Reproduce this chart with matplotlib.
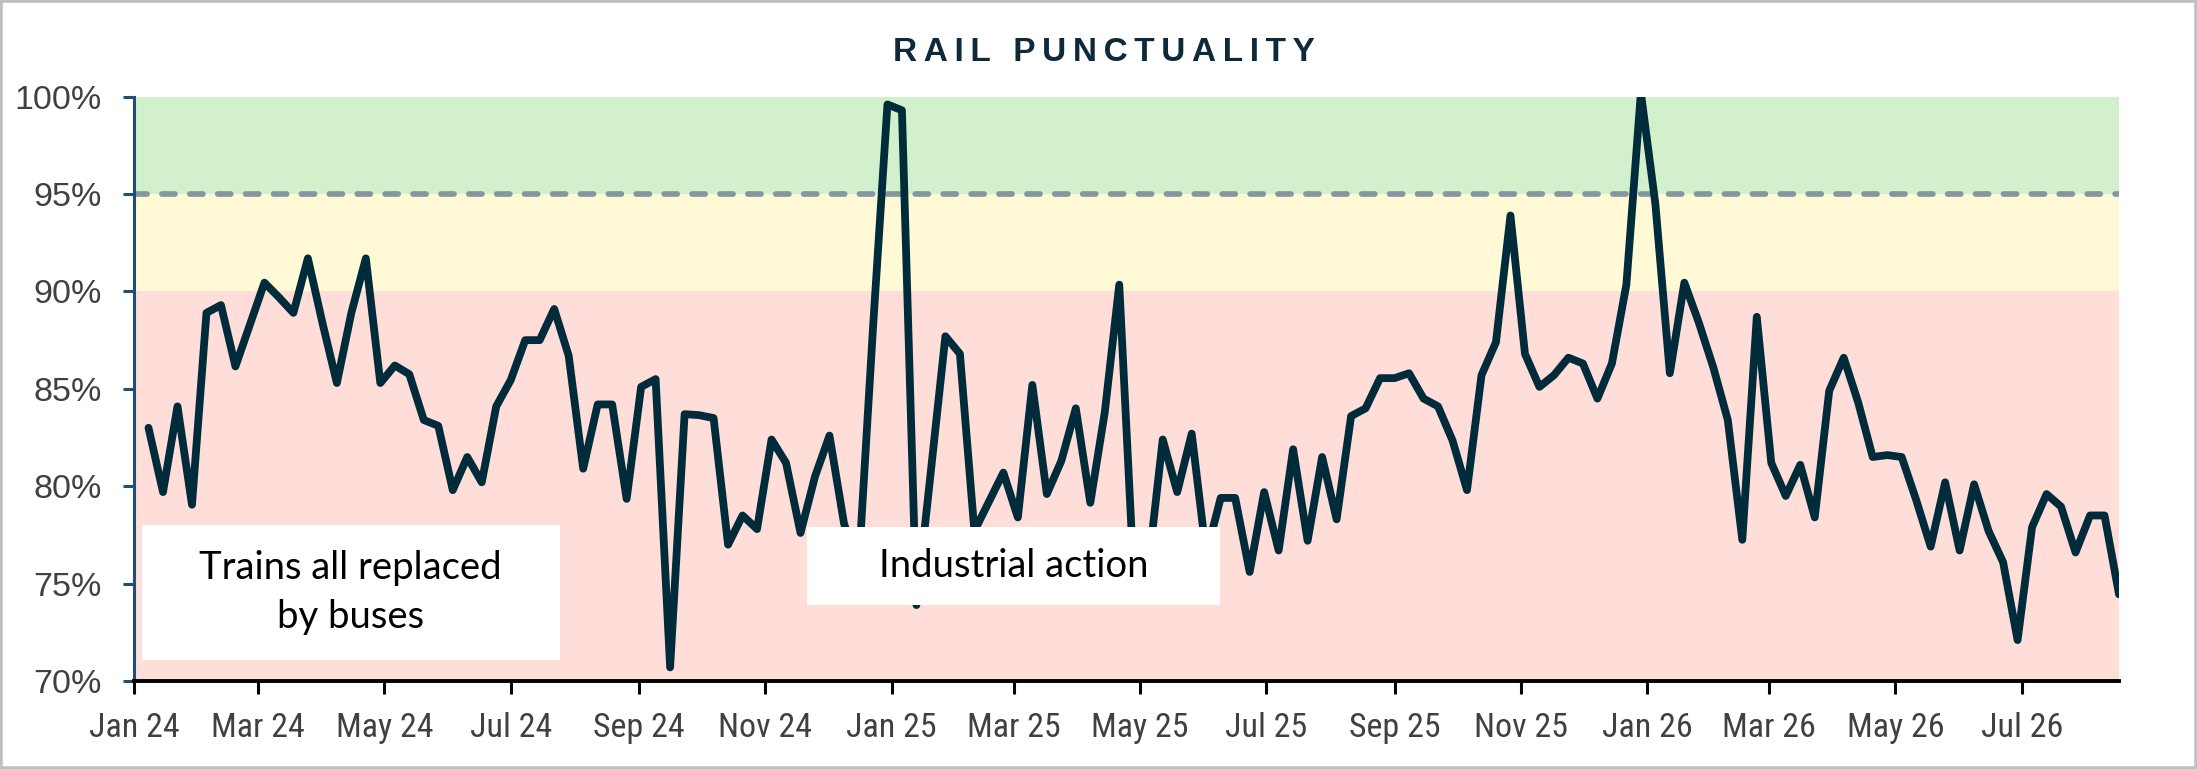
import numpy as np
import pandas as pd
import matplotlib
matplotlib.use("Agg")
import matplotlib.pyplot as plt
import matplotlib.dates as mdates
from matplotlib import font_manager
from matplotlib.patches import Rectangle
from matplotlib.ticker import MultipleLocator, FuncFormatter

# weekly rail punctuality (%), first week starting Mon 8 Jan 2024
first_week = "2024-01-08"
punctuality = [
    83.0, 79.7, 84.1, 79.05, 88.9, 89.3, 86.15, 88.3, 90.45, 89.7,
    88.9, 91.7, 88.4, 85.3, 88.9, 91.7, 85.3, 86.2, 85.75, 83.4,
    83.1, 79.8, 81.5, 80.2, 84.1, 85.45, 87.5, 87.5, 89.1, 86.7,
    80.9, 84.2, 84.2, 79.35, 85.1, 85.5, 70.7, 83.7, 83.65, 83.5,
    77.0, 78.5, 77.8, 82.4, 81.2, 77.6, 80.5, 82.6, 78.1, 75.7,
    88.1, 99.6, 99.3, 73.9, 80.8, 87.7, 86.8, 77.7, 79.2, 80.7,
    78.4, 85.2, 79.6, 81.3, 84.0, 79.15, 83.8, 90.35, 75.4, 75.8,
    82.4, 79.7, 82.7, 76.5, 79.4, 79.4, 75.6, 79.7, 76.7, 81.9,
    77.2, 81.5, 78.3, 83.6, 84.0, 85.55, 85.55, 85.8, 84.5, 84.1,
    82.35, 79.8, 85.7, 87.4, 93.9, 86.8, 85.1, 85.7, 86.6, 86.3,
    84.5, 86.3, 90.35, 100.2, 94.5, 85.8, 90.45, 88.4, 86.1, 83.4,
    77.25, 88.7, 81.2, 79.5, 81.1, 78.4, 84.9, 86.6, 84.3, 81.5,
    81.6, 81.5, 79.3, 76.9, 80.2, 76.7, 80.1, 77.7, 76.1, 72.1,
    77.9, 79.6, 78.95, 76.6, 78.5, 78.5, 74.45,
]

target = 95
band_edges = [70, 90, 95, 100]
band_colors = ["#FFDDD8", "#FFF9D5", "#D3F0CD"]

notes = ["Trains all replaced\nby buses", "Industrial action"]

weeks = pd.date_range(first_week, periods=len(punctuality), freq="7D")

# narrow face for the date labels if there is one
installed = {f.name for f in font_manager.fontManager.ttflist}
if "Liberation Sans Narrow" in installed:
    xfont, xsize = ["Liberation Sans Narrow", "DejaVu Sans"], 24.5
elif "Roboto Condensed" in installed:
    xfont, xsize = ["Roboto Condensed", "DejaVu Sans"], 24.5
else:
    xfont, xsize = ["Liberation Sans", "DejaVu Sans"], 20.5

fig = plt.figure(figsize=(21.97, 7.69), dpi=100)
ax = fig.add_axes([0.061, 0.1144, 0.9035, 0.7599])

for lo, hi, c in zip(band_edges[:-1], band_edges[1:], band_colors):
    ax.axhspan(lo, hi, color=c, lw=0, zorder=0)

ax.axhline(target, color="#8497A0", lw=4.1, ls=(0, (2.3, 2.6)),
           dash_capstyle="round", zorder=1)
ax.plot(weeks, punctuality, color="#002B3A", lw=5.6,
        solid_joinstyle="round", solid_capstyle="round", zorder=2)

ax.set_xlim(pd.Timestamp("2024-01-01"), weeks[-1])
ax.set_ylim(70, 100)
ax.yaxis.set_major_locator(MultipleLocator(5))
ax.yaxis.set_major_formatter(FuncFormatter(lambda v, p: f"{v:.0f}%"))
ax.xaxis.set_major_locator(mdates.MonthLocator(bymonth=[1, 3, 5, 7, 9, 11]))
ax.xaxis.set_major_formatter(mdates.DateFormatter("%b %y"))

for s in ["top", "right"]:
    ax.spines[s].set_visible(False)
ax.spines["left"].set_color("#1F4E79")
ax.spines["left"].set_linewidth(2.2)
ax.spines["bottom"].set_color("black")
ax.spines["bottom"].set_linewidth(2.8)

ax.tick_params(axis="y", length=8, width=2.2, color="#1F4E79", pad=15,
               labelsize=24.5, labelcolor="#404040")
ax.tick_params(axis="x", length=9, width=2.2, color="black", pad=13,
               labelsize=xsize, labelcolor="#404040")
for lab in ax.get_yticklabels():
    lab.set_family(["Liberation Sans", "DejaVu Sans"])
for lab in ax.get_xticklabels():
    lab.set_family(xfont)

# white note boxes sit over the line, as in the original
boxes = [(0.0038, 0.036, 0.2108, 0.231), (0.339, 0.130, 0.208, 0.1336)]
for (x0, y0, w, h), txt in zip(boxes, notes):
    ax.add_patch(Rectangle((x0, y0), w, h, transform=ax.transAxes,
                           fc="white", ec="none", zorder=3))
    ax.text(x0 + w / 2, y0 + h / 2, txt, transform=ax.transAxes,
            ha="center", va="center", fontsize=27.5, color="black",
            family=["Lato", "DejaVu Sans"], linespacing=1.45, zorder=4)

title = "\u2009".join("RAIL PUNCTUALITY")
fig.text(0.5025, 0.932, title, ha="center", va="center", fontsize=24,
         fontweight="bold", color="#0E2A3A",
         family=["Liberation Sans", "DejaVu Sans"])

fig.patches.append(Rectangle((0, 0), 1, 1, transform=fig.transFigure,
                             fill=False, ec="#BFBFBF", lw=4))

fig.savefig("out.png", dpi=100)
